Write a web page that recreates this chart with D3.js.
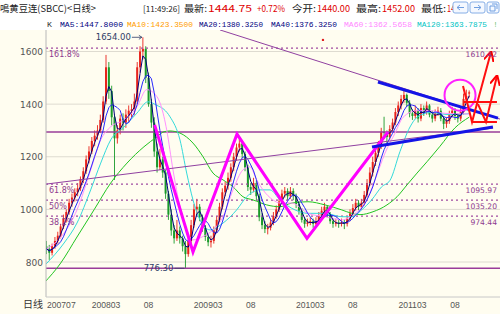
<!DOCTYPE html>
<html>
<head>
<meta charset="utf-8">
<script src="https://cdn.jsdelivr.net/npm/d3@7"></script>
<style>
body { margin: 0; background: #fff; }
</style>
</head>
<body>
<div id="chart"></div>
<script>
// ---- data ----
const startMonth = 7        // first bar: 2007-08, months counted from 2007-01
const barsPerMonth = 3

// [open, high, low, close], one bar per ~third of a month
const candles = [
    [860, 880, 830, 850], [850, 865, 808, 835], [835, 870, 825, 860], [860, 895, 850, 880],
    [880, 915, 870, 900], [900, 945, 890, 935], [935, 980, 925, 965], [965, 1000, 950, 990],
    [990, 1040, 980, 1025], [1025, 1060, 1010, 1045], [1045, 1080, 1030, 1065], [1065, 1100, 1050, 1080],
    [1080, 1125, 1070, 1115], [1115, 1160, 1100, 1145], [1145, 1205, 1135, 1190], [1190, 1240, 1175, 1220],
    [1220, 1275, 1210, 1260], [1260, 1300, 1240, 1280], [1280, 1320, 1265, 1300], [1300, 1360, 1290, 1340],
    [1340, 1430, 1330, 1410], [1410, 1587, 1400, 1540], [1540, 1560, 1420, 1450], [1450, 1470, 1320, 1350],
    [1350, 1360, 1112, 1270], [1270, 1320, 1250, 1300], [1300, 1360, 1285, 1345], [1345, 1365, 1300, 1330],
    [1330, 1380, 1310, 1360], [1360, 1395, 1330, 1375], [1375, 1400, 1350, 1380], [1380, 1440, 1360, 1410],
    [1410, 1560, 1400, 1540], [1540, 1620, 1520, 1600], [1600, 1654, 1570, 1610], [1610, 1620, 1480, 1500],
    [1500, 1520, 1390, 1400], [1400, 1420, 1310, 1330], [1330, 1350, 1200, 1220], [1220, 1250, 1140, 1160],
    [1160, 1230, 1150, 1190], [1190, 1200, 1120, 1140], [1140, 1150, 1040, 1060], [1060, 1070, 960, 980],
    [980, 1000, 900, 920], [920, 940, 870, 890], [890, 960, 880, 920], [920, 935, 870, 890],
    [890, 900, 840, 860], [860, 880, 776.3, 830], [830, 895, 820, 880], [880, 960, 870, 940],
    [940, 1020, 930, 1000], [1000, 1040, 980, 1010], [1010, 1020, 955, 970], [970, 980, 915, 930],
    [930, 940, 880, 895], [895, 905, 860, 875], [875, 900, 855, 880], [880, 935, 870, 920],
    [920, 975, 910, 960], [960, 1025, 950, 1010], [1010, 1080, 1000, 1065], [1065, 1105, 1050, 1090],
    [1090, 1140, 1075, 1120], [1120, 1175, 1105, 1160], [1160, 1215, 1145, 1200], [1200, 1250, 1185, 1235],
    [1235, 1276, 1220, 1250], [1250, 1260, 1195, 1210], [1210, 1220, 1145, 1160], [1160, 1170, 1070, 1085],
    [1085, 1100, 1055, 1075], [1075, 1120, 1065, 1100], [1100, 1110, 1035, 1050], [1050, 1060, 955, 970],
    [970, 985, 925, 940], [940, 955, 910, 925], [925, 945, 905, 930], [930, 965, 920, 950],
    [950, 990, 940, 975], [975, 1015, 965, 1000], [1000, 1045, 990, 1030], [1030, 1075, 1020, 1060],
    [1060, 1085, 1045, 1070], [1070, 1080, 1035, 1050], [1050, 1085, 1040, 1070], [1070, 1080, 1035, 1050],
    [1050, 1060, 1005, 1020], [1020, 1030, 980, 995], [995, 1005, 950, 960], [960, 970, 930, 945],
    [945, 965, 935, 950], [950, 970, 940, 955], [955, 965, 930, 945], [945, 970, 935, 955],
    [955, 990, 945, 975], [975, 1010, 965, 995], [995, 1025, 985, 1010], [1010, 1015, 970, 980],
    [980, 990, 945, 955], [955, 965, 930, 945], [945, 965, 935, 950], [950, 960, 930, 945],
    [945, 965, 935, 950], [950, 960, 925, 945], [945, 975, 935, 965], [965, 1000, 955, 985],
    [985, 1020, 975, 1005], [1005, 1040, 995, 1025], [1025, 1035, 995, 1010], [1010, 1040, 1000, 1025],
    [1025, 1070, 1015, 1055], [1055, 1115, 1045, 1100], [1100, 1160, 1090, 1140], [1140, 1200, 1125, 1180],
    [1180, 1230, 1165, 1215], [1215, 1260, 1200, 1240], [1240, 1310, 1230, 1295], [1295, 1352, 1270, 1290],
    [1290, 1300, 1250, 1275], [1275, 1320, 1265, 1305], [1305, 1345, 1295, 1330], [1330, 1385, 1320, 1370],
    [1370, 1410, 1355, 1395], [1395, 1435, 1380, 1420], [1420, 1452, 1405, 1435], [1435, 1440, 1390, 1405],
    [1405, 1415, 1350, 1365], [1365, 1380, 1340, 1355], [1355, 1395, 1345, 1378], [1378, 1385, 1330, 1345],
    [1345, 1400, 1335, 1385], [1385, 1395, 1355, 1370], [1370, 1410, 1360, 1395], [1395, 1400, 1350, 1360],
    [1360, 1375, 1330, 1345], [1345, 1380, 1335, 1365], [1365, 1390, 1355, 1375], [1375, 1385, 1335, 1345],
    [1345, 1355, 1305, 1325], [1325, 1350, 1310, 1335], [1335, 1375, 1325, 1360], [1360, 1390, 1350, 1375],
    [1375, 1385, 1340, 1355], [1355, 1365, 1330, 1345], [1345, 1385, 1335, 1370], [1370, 1440, 1360, 1420],
    [1420, 1455, 1405, 1430], [1440, 1452, 1425, 1444.75]
]

// longer averages, [month, value]
const ma60 = [
    [7.07, 850], [9.07, 910], [10.59, 998], [12.2, 1150], [13.38, 1264], [14.55, 1314], [16.11, 1340],
    [17.64, 1390], [18.78, 1455], [19.99, 1428], [20.81, 1352], [21.13, 1302], [21.87, 1150], [22.69, 1010],
    [23.48, 922], [24.22, 884], [25.4, 897], [26.57, 922], [27.75, 972], [28.92, 1074], [30.09, 1150],
    [30.92, 1162], [31.7, 1112], [32.44, 1074], [33.62, 1036], [34.44, 1024], [35.82, 1024], [37.73, 985],
    [39.73, 972], [41.69, 960], [43.25, 985], [44.43, 1024], [45.6, 1112], [46.78, 1214], [47.96, 1290],
    [48.9, 1350], [50.5, 1375], [52.06, 1375], [53.83, 1365], [56.65, 1362.57]
]
const ma120 = [
    [6.95, 792], [9.07, 872], [10.59, 948], [12.2, 1074], [13.38, 1176], [14.55, 1264], [16.11, 1313],
    [17.64, 1366], [18.93, 1409], [19.99, 1395], [20.81, 1380], [21.52, 1352], [22.69, 1264], [23.48, 1138],
    [24.22, 1036], [25.04, 960], [26.22, 922], [27.75, 948], [29.35, 998], [30.53, 1048], [32.09, 1074],
    [33.27, 1074], [34.44, 1036], [36.2, 998], [37.73, 985], [39.73, 985], [41.69, 972], [42.87, 972],
    [44.04, 998], [45.21, 1036], [46.39, 1086], [47.36, 1110], [48.54, 1220], [49.71, 1313], [50.54, 1350],
    [52.06, 1368], [54.41, 1360], [56.65, 1363.79]
]
const ma250 = [
    [6.72, 720], [8.68, 796], [10.59, 895], [12.59, 998], [14.55, 1100], [16.47, 1176], [18.46, 1238],
    [19.99, 1276], [20.81, 1295], [21.52, 1298], [22.69, 1290], [24.22, 1252], [25.4, 1200], [26.57, 1138],
    [27.75, 1112], [28.92, 1086], [30.09, 1048], [31.27, 1036], [32.88, 1017], [34.44, 1010], [35.82, 1024],
    [37.73, 1029], [39.73, 1017], [41.69, 998], [42.87, 985], [43.84, 980], [45.37, 991], [47.01, 1017],
    [48.19, 1048], [49.36, 1093], [50.54, 1138], [51.71, 1181], [53.24, 1240], [55.0, 1310], [56.65, 1350]
]

const yTicks = [800, 1000, 1200, 1400, 1600]
const tickMonths = [7, 14, 19, 26, 31, 38, 43, 50, 55]
const tickLabels = ["200707", "200803", "08", "200903", "08", "201003", "08", "201103", "08"]

const fibLevels = [1613, 1095.97, 1035.20, 974.44]
const fibLeftText = ["161.8%", "61.8%", "50%", "38.2%"]
const fibRightText = ["1610.42", "1095.97", "1035.20", "974.44"]
const solidLevels = [1294, 776.3]

// hand drawn marks, [month, price]
const fallLine = [[27.39, 1682], [60.29, 1343]]
const riseLine = [[6.95, 1096], [59.46, 1309]]
const upperBlue = [[45.95, 1484], [60.05, 1347]]
const lowerBlue = [[45.25, 1237], [59.46, 1313]]
const zigzag = [[19.71, 1321], [24.22, 838], [29.39, 1286], [37.61, 890], [47.13, 1294]]
const ringCenter = [55.59, 1434]
const redArrows = [
    [[55.94, 1469], [57.0, 1332], [59.23, 1598]],
    [[57.7, 1400], [58.64, 1332], [59.93, 1507]]
]
const redLevels = [[[56.06, 1408], [59.93, 1408]], [[57.0, 1332], [59.93, 1332]]]
const redDot = [39.49, 1644]

// quote line and MA legend
const quoteTexts = ["鳴黄豆连(SBCC)<日线>", "[11:49:26]", "最新:", "1444.75", "+0.72%",
    "今开:", "1440.00", "最高:", "1452.00", "最低:", "14"]
const quoteIsPrice = [false, false, false, true, true, false, true, false, true, false, true]
const maTexts = ["K", "MA5:1447.8000", "MA10:1423.3500", "MA20:1380.3250", "MA40:1376.3250",
    "MA60:1362.5658", "MA120:1363.7875", "!"]

// ---- layout ----
const W = 500, H = 314
const plot = {left: 46, right: 500, top: 30, bottom: 297}

// x start, width, font size of each header piece
const quoteLayout = [[0, 96, 9.5], [143, 37, 8], [184, 23, 9.5], [208, 44, 9.5], [257, 28, 9],
    [292, 24, 9.5], [317, 33, 9], [356, 25, 9.5], [382, 33, 9], [421, 25, 9.5], [447, 8, 9]]
const maLayout = [[47, 5], [60, 63], [127, 66], [199, 64], [271, 66], [344, 68], [417, 70], [494, 3]]
const maColors = ["#333", "#000080", "#ff9c00", "#000080", "#000080", "#ff88ff", "#00c4c4", "#00a000"]

const svg = d3.select("#chart").append("svg")
    .attr("width", W).attr("height", H)
    .style("font-family", "'DejaVu Sans', sans-serif")

svg.append("rect").attr("width", W).attr("height", H).attr("fill", "#fffdf0")
svg.append("rect").attr("width", W).attr("height", plot.top).attr("fill", "#ffffff")

const x = d3.scaleLinear().domain([14, 55]).range([106, 455])
const y = d3.scaleLinear().domain([800, 1600]).range([262, 51.5])
const barMonth = i => startMonth + i / barsPerMonth

svg.append("clipPath").attr("id", "clip")
    .append("rect")
    .attr("x", plot.left).attr("y", plot.top)
    .attr("width", plot.right - plot.left).attr("height", plot.bottom - plot.top)

const g = svg.append("g").attr("clip-path", "url(#clip)")

// grid
g.selectAll(".grid").data(yTicks).enter().append("line")
    .attr("x1", plot.left).attr("x2", plot.right)
    .attr("y1", d => y(d)).attr("y2", d => y(d))
    .attr("stroke", "#dedbd0").attr("stroke-width", 1)

// candles
const bars = g.append("g")
candles.forEach((c, i) => {
    const [o, h, l, cl] = c
    const cx = x(barMonth(i))
    const col = cl >= o ? "#e8231b" : "#1a9a2a"
    bars.append("line")
        .attr("x1", cx).attr("x2", cx)
        .attr("y1", y(h)).attr("y2", y(l))
        .attr("stroke", col).attr("stroke-width", 0.9)
    bars.append("rect")
        .attr("x", cx - 1).attr("width", 2)
        .attr("y", y(Math.max(o, cl)))
        .attr("height", Math.max(0.8, Math.abs(y(o) - y(cl))))
        .attr("fill", col)
})

// fibonacci levels
g.selectAll(".fib").data(fibLevels).enter().append("line")
    .attr("x1", plot.left).attr("x2", plot.right)
    .attr("y1", d => y(d)).attr("y2", d => y(d))
    .attr("stroke", "#a04aa0").attr("stroke-width", 1.4)
    .attr("stroke-dasharray", "2,3")

g.selectAll(".solid").data(solidLevels).enter().append("line")
    .attr("x1", plot.left).attr("x2", plot.right)
    .attr("y1", d => y(d)).attr("y2", d => y(d))
    .attr("stroke", "#9a3c9a").attr("stroke-width", 1.3)

// moving averages
const closes = candles.map(c => c[3])
function movingAvg(k) {
    return closes.map((c, i) => [barMonth(i), d3.mean(closes.slice(Math.max(0, i - k + 1), i + 1))])
}
const line = d3.line().x(d => x(d[0])).y(d => y(d[1]))
const smooth = d3.line().x(d => x(d[0])).y(d => y(d[1])).curve(d3.curveMonotoneX)

const maLines = [
    [ma250, "#22c422", smooth],
    [ma120, "#33dada", smooth],
    [ma60, "#ff90ff", smooth],
    [movingAvg(6), "#2a2aff", line],
    [movingAvg(3), "#00007a", line]
]
maLines.forEach(m => {
    g.append("path").attr("d", m[2](m[0]))
        .attr("fill", "none").attr("stroke", m[1]).attr("stroke-width", 1)
})

// trend lines
g.append("path").attr("d", line(fallLine)).attr("fill", "none")
    .attr("stroke", "#9040a0").attr("stroke-width", 1)
g.append("path").attr("d", line(riseLine)).attr("fill", "none")
    .attr("stroke", "#9040a0").attr("stroke-width", 1)

g.append("path").attr("d", line(zigzag)).attr("fill", "none")
    .attr("stroke", "#ff00ff").attr("stroke-width", 3).attr("stroke-linejoin", "miter")

;[upperBlue, lowerBlue].forEach(l => {
    g.append("path").attr("d", line(l)).attr("fill", "none")
        .attr("stroke", "#1414e6").attr("stroke-width", 3)
})

g.append("circle")
    .attr("cx", x(ringCenter[0])).attr("cy", y(ringCenter[1])).attr("r", 15.5)
    .attr("fill", "none").attr("stroke", "#ff22ff").attr("stroke-width", 2)

svg.append("defs").append("marker")
    .attr("id", "arrow").attr("viewBox", "0 0 10 10")
    .attr("refX", 9).attr("refY", 5)
    .attr("markerWidth", 5).attr("markerHeight", 5)
    .attr("orient", "auto")
    .append("path").attr("d", "M0,0L10,5L0,10").attr("fill", "none")
    .attr("stroke", "#ff0000").attr("stroke-width", 2)

redArrows.forEach(a => {
    g.append("path").attr("d", line(a)).attr("fill", "none")
        .attr("stroke", "#ff1010").attr("stroke-width", 2)
        .attr("marker-end", "url(#arrow)")
})
redLevels.forEach(a => {
    g.append("path").attr("d", line(a)).attr("fill", "none")
        .attr("stroke", "#ff1010").attr("stroke-width", 2)
})
g.append("circle").attr("cx", x(redDot[0])).attr("cy", y(redDot[1])).attr("r", 1.2).attr("fill", "#e02020")

// fib labels
g.selectAll(".fibL").data(fibLevels).enter().append("text")
    .attr("x", 49).attr("y", d => y(d) + 9)
    .attr("font-size", 8).attr("fill", "#8e3a8e")
    .text((d, i) => fibLeftText[i])
g.selectAll(".fibR").data(fibLevels).enter().append("text")
    .attr("x", 497).attr("y", d => y(d) + 9)
    .attr("text-anchor", "end")
    .attr("font-size", 7.6).attr("fill", "#8e3a8e")
    .text((d, i) => fibRightText[i])

// extreme price labels
const hiIdx = d3.maxIndex(candles, c => c[1])
const loIdx = d3.minIndex(candles, c => c[2])
const hx = x(barMonth(hiIdx)), hy = y(candles[hiIdx][1])
g.append("text").attr("x", hx - 12).attr("y", hy + 3)
    .attr("text-anchor", "end").attr("font-size", 8.5).attr("fill", "#2e3c66")
    .text(d3.format(".2f")(candles[hiIdx][1]))
g.append("path").attr("d", `M${hx - 11},${hy}H${hx - 1}M${hx - 4},${hy - 2}L${hx - 1},${hy}L${hx - 4},${hy + 2}`)
    .attr("fill", "none").attr("stroke", "#2e3c66").attr("stroke-width", 0.8)
const lx = x(barMonth(loIdx)), ly = y(candles[loIdx][2])
g.append("text").attr("x", lx - 12).attr("y", ly + 3)
    .attr("text-anchor", "end").attr("font-size", 8.5).attr("fill", "#2e3c66")
    .text(d3.format(".2f")(candles[loIdx][2]))
g.append("path").attr("d", `M${lx - 11},${ly}H${lx - 1}`)
    .attr("fill", "none").attr("stroke", "#2e3c66").attr("stroke-width", 0.8)

// axes
svg.append("line").attr("x1", plot.left).attr("x2", plot.left)
    .attr("y1", plot.top).attr("y2", plot.bottom).attr("stroke", "#b8b8b8")
svg.append("line").attr("x1", plot.left).attr("x2", plot.right)
    .attr("y1", plot.bottom).attr("y2", plot.bottom).attr("stroke", "#c8c8c8")

svg.selectAll(".ylab").data(yTicks).enter().append("text")
    .attr("x", 43).attr("y", d => y(d) + 3.5)
    .attr("text-anchor", "end").attr("font-size", 9).attr("fill", "#555")
    .text(d => d)

svg.selectAll(".xlab").data(tickMonths).enter().append("text")
    .attr("x", (d, i) => i === 0 ? plot.left + 1 : x(d))
    .attr("y", 308)
    .attr("text-anchor", (d, i) => i === 0 ? "start" : "middle")
    .attr("font-family", "'Liberation Sans', sans-serif")
    .attr("font-size", 8.6).attr("fill", "#555")
    .text((d, i) => tickLabels[i])

svg.append("text").attr("x", 43).attr("y", 308).attr("text-anchor", "end")
    .attr("font-family", "'Noto Sans CJK SC'").attr("font-size", 10).attr("fill", "#333")
    .text("日线")

// header
svg.selectAll(".htop").data(quoteTexts).enter().append("text")
    .attr("x", (d, i) => quoteLayout[i][0]).attr("y", 11.5)
    .attr("textLength", (d, i) => quoteLayout[i][1]).attr("lengthAdjust", "spacingAndGlyphs")
    .attr("font-family", "'Noto Sans CJK SC'")
    .attr("font-size", (d, i) => quoteLayout[i][2])
    .attr("fill", (d, i) => quoteIsPrice[i] ? "#e00000" : "#222")
    .text(d => d)

svg.selectAll(".hma").data(maTexts).enter().append("text")
    .attr("x", (d, i) => maLayout[i][0]).attr("y", 27)
    .attr("textLength", (d, i) => maLayout[i][1]).attr("lengthAdjust", "spacingAndGlyphs")
    .attr("font-family", "'Liberation Mono', monospace").attr("font-size", 7.8)
    .attr("fill", (d, i) => maColors[i])
    .text(d => d)

// little window buttons at the top right
const btn = svg.append("g")
;[453, 470, 487].forEach((bx, i) => {
    btn.append("rect").attr("x", bx).attr("y", 2).attr("width", i < 2 ? 15 : 12).attr("height", 11)
        .attr("rx", 2).attr("fill", "#f4f8ff").attr("stroke", "#86aee6")
})
btn.append("path").attr("d", "M457,7.5h7M457,7.5l3,-2.5M457,7.5l3,2.5")
    .attr("stroke", "#6f9ee0").attr("fill", "none")
btn.append("path").attr("d", "M474,7.5h7M481,7.5l-3,-2.5M481,7.5l-3,2.5")
    .attr("stroke", "#6f9ee0").attr("fill", "none")
btn.append("path").attr("d", "M490,6h5v5h-5zM492,4h5v5")
    .attr("stroke", "#6f9ee0").attr("fill", "none")
</script>
</body>
</html>
